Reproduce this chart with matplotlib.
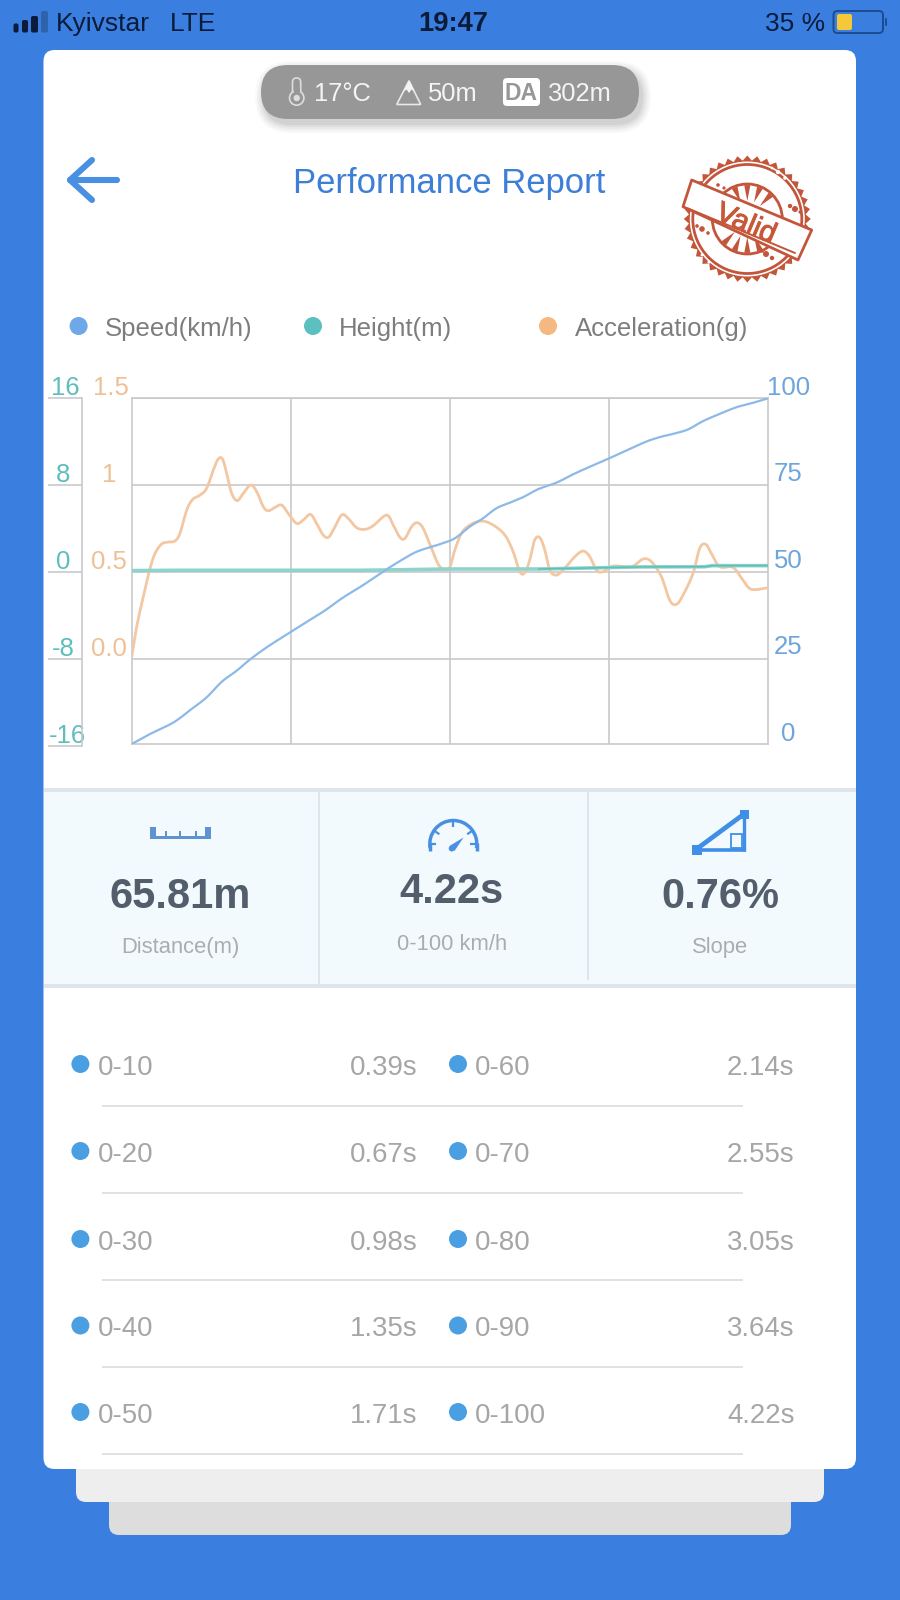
import numpy as np
import matplotlib
matplotlib.use("Agg")
import matplotlib.pyplot as plt
import matplotlib.patheffects as pe
from matplotlib.patches import FancyBboxPatch, Circle, Polygon, Arc, Rectangle
from matplotlib.transforms import ScaledTranslation

plt.rcParams['font.family'] = ['Liberation Sans', 'DejaVu Sans']

# ---------- data ----------
time_acc = [0.00,.033,.077,.122,.155,.199,.243,.287,.320,.365,.404,.453,.497,.541,.574,.603,.630,.663,.700,.740,
            .789,.829,.873,.906,.950,.994,1.038,1.094,1.138,1.186,1.226,1.270,1.304,1.337,1.392,1.436,1.491,1.547,
            1.602,1.690,1.734,1.779,1.812,1.856,1.893,1.933,1.988,2.044,2.103,2.143,2.187,2.243,2.320,2.397,2.475,
            2.530,2.574,2.607,2.640,2.673,2.707,2.740,2.773,2.817,2.872,2.939,2.994,3.038,3.082,3.126,3.193,3.314,
            3.391,3.447,3.513,3.568,3.612,3.657,3.723,3.767,3.807,3.844,3.900,3.988,4.054,4.110,4.220]
acceleration = [.013,.186,.359,.522,.608,.662,.673,.679,.723,.857,.918,.943,.982,1.087,1.151,1.149,1.068,.953,.911,.953,
                1.001,.963,.876,.853,.872,.886,.838,.780,.800,.832,.780,.713,.700,.742,.828,.809,.756,.746,
                .767,.828,.771,.700,.694,.761,.784,.752,.637,.531,.518,.627,.723,.771,.794,.771,.713,
                .617,.502,.497,.570,.685,.698,.627,.512,.483,.522,.589,.621,.589,.512,.502,.535,.531,
                .575,.560,.474,.339,.314,.368,.493,.637,.660,.608,.531,.527,.454,.401,.410]
time_speed = [0,.122,.276,.387,.497,.597,.696,.795,.917,1.049,1.182,1.281,1.403,1.536,1.668,1.801,1.900,2.044,2.143,
              2.243,2.331,2.419,2.508,2.596,2.695,2.817,2.927,3.038,3.155,3.281,3.414,3.513,3.590,3.690,3.789,3.900,
              4.010,4.121,4.220]
speed = [0,2.9,6.2,9.8,13.5,18.0,21.2,24.8,28.6,32.2,35.9,38.6,42.4,46.0,49.9,53.5,55.8,57.8,59.5,
         62.9,65.3,68.2,69.8,71.4,73.7,75.6,78.0,80.2,82.4,84.9,87.5,88.9,89.7,91.0,93.4,95.5,
         97.4,98.7,100.0]
time_height = [0,.28,1.5,1.68,2.1,2.7,3.37,3.8,3.85,4.22]
height_m = [.14,.17,.17,.2,.29,.29,.48,.5,.6,.6]

height_ticks = [-16,-8,0,8,16]
acc_ticks = [0,.5,1,1.5]
acc_tick_labels = ['0.0','0.5','1','1.5']
speed_ticks = [0,25,50,75,100]

legend_labels = ['Speed(km/h)','Height(m)','Acceleration(g)']
stat_values = ['65.81m','4.22s','0.76%']
stat_labels = ['Distance(m)','0-100 km/h','Slope']
row_left_labels = ['0-10','0-20','0-30','0-40','0-50']
row_left_times = ['0.39s','0.67s','0.98s','1.35s','1.71s']
row_right_labels = ['0-60','0-70','0-80','0-90','0-100']
row_right_times = ['2.14s','2.55s','3.05s','3.64s','4.22s']

# ---------- colours ----------
BG='#3a7fe0'; TEAL='#5fbdbd'; ORANGE='#efc096'; BLUE='#6ea5dc'; GRID='#c9c9c9'
W,H=900,1600
fig=plt.figure(figsize=(9,16),dpi=100,facecolor=BG)

bg=fig.add_axes([0,0,1,1],zorder=0)
bg.set_xlim(0,W); bg.set_ylim(H,0); bg.axis('off')

def rrect(x0,y0,x1,y1,r,color,z=1,**k):
    p=FancyBboxPatch((x0,y0),x1-x0,y1-y0,boxstyle=f'round,pad=0,rounding_size={r}',fc=color,ec='none',zorder=z,**k)
    bg.add_patch(p); return p
def txt(x,y,s,size,color,ha='left',weight='normal',rot=0,z=6):
    return bg.text(x,y,s,fontsize=size,color=color,ha=ha,va='center',fontweight=weight,rotation=rot,
                   rotation_mode='anchor',zorder=z)
def line(xs,ys,color,lw,z=5,cap='round'):
    bg.plot(xs,ys,color=color,lw=lw,zorder=z,solid_capstyle=cap,solid_joinstyle='round')
def dot(x,y,r,color,z=5):
    bg.add_patch(Circle((x,y),r,fc=color,ec='none',zorder=z))
def smooth(xs,ys,n=8):
    """Catmull-Rom drawing of a series, like a chart library's smooth line."""
    P=np.c_[xs,ys]; P=np.vstack([P[0],P,P[-1]]); out=[]
    for i in range(1,len(P)-2):
        s=np.linspace(0,1,n,endpoint=False)[:,None]
        out.append(.5*(2*P[i]+(P[i+1]-P[i-1])*s+(2*P[i-1]-5*P[i]+4*P[i+1]-P[i+2])*s**2
                       +(3*P[i]-P[i-1]-3*P[i+1]+P[i+2])*s**3))
    out.append(P[-1][None]); return np.vstack(out).T

# cards
rrect(109,1480,791,1535,10,'#dddddd',1)
rrect(76,1440,824,1502,10,'#eeeeee',2)
rrect(43.5,50,856,1469,11,'#ffffff',3)

# status bar
DARK='#0b1b3a'
for x0,x1,top,c in zip([13.5,22,31,41],[18.5,28,38,48],[23.5,20,16,11],[DARK,DARK,DARK,'#2f62ad']):
    rrect(x0,top,x1,32.5,1.8,c,5)
txt(55.5,24,'Kyivstar',19,DARK); txt(170,24,'LTE',19,DARK)
txt(453,24,'19:47',19.7,DARK,'center','bold')
txt(765,24,'35 %',19,DARK)
rrect(833.5,11,883,33,4,'none',5).set(ec='#1c4c92',lw=1.4)
rrect(837,14,852,30,2,'#f5c83a',6)
rrect(885,18,887,26,1,'#1c4c92',5)

# pill
for g,a in zip([9,7,5,3,1],[.025,.03,.035,.04,.05]):
    rrect(261+3-g,65+5-g,639+3+g,119+5+g,27+g,'#000000',4,alpha=a)
rrect(261,65,639,119,27,'#979797',5)
PT='#f4f4f4'
txt(314,94,'17°C',18.4,PT); txt(428,94,'50m',18.4,PT); txt(547,94,'302m',18.4,PT)
rrect(503,78,540,106,4,'white',6)
txt(521.5,93.5,'DA',16.5,'#979797','center','bold',z=7)
rrect(292.5,78,300.7,96,4,'none',6).set(ec='#dddddd',lw=1.2)
bg.add_patch(Circle((296.7,98),7.2,fc='#979797',ec='#dddddd',lw=1.2,zorder=6))
bg.add_patch(Rectangle((293.5,88),6.4,6,fc='#979797',ec='none',zorder=6.5))
dot(296.7,98,3.2,'#dddddd',7)
bg.add_patch(Polygon([[396.7,104.5],[409,80.7],[420.7,104.5]],closed=True,fc='#979797',ec='#e8e8e8',lw=1.2,zorder=6))
bg.add_patch(Polygon([[403,92],[409,81],[415,92],[411.5,89.5],[409,93],[406.5,89.5]],closed=True,fc='#f4f4f4',ec='none',zorder=7))

# header
ARROW='#4a90e2'
line([70,117],[180,180],ARROW,4.4); line([92,70,92],[160,180,200],ARROW,4.4)
txt(449.5,183,'Performance Report',24.9,'#3d7fd6','center')

# stamp
ST='#c3563a'; cx,cy=747.3,219
ang=np.linspace(0,2*np.pi,81)[:-1]
rad=np.where(np.arange(80)%2==0,63.5,58.5)
bg.add_patch(Polygon(np.c_[cx+rad*np.cos(ang),cy+rad*np.sin(ang)],closed=True,fc=ST,ec='none',zorder=5))
bg.add_patch(Circle((cx,cy),57.5,fc='white',ec='none',zorder=5.05))
bg.add_patch(Circle((cx,cy),54.5,fc='none',ec=ST,lw=2.0,zorder=5.1))
bg.add_patch(Circle((cx,cy),35,fc='none',ec=ST,lw=2.0,zorder=5.1))
for deg in [-112,-90,-68,-46,68,90,112,134]:
    a=np.deg2rad(deg)
    p=[[cx+18*np.cos(a),cy+18*np.sin(a)],
       [cx+34*np.cos(a-.09),cy+34*np.sin(a-.09)],
       [cx+34*np.cos(a+.09),cy+34*np.sin(a+.09)]]
    bg.add_patch(Polygon(p,closed=True,fc=ST,ec='none',zorder=5.1))
for x,y,r in [(795,209,3),(790,206,2.2),(800,212,1.6),(702,229,2.8),(697,226,1.8),(708,233,1.8),
              (766,254,3),(772,258,2.2),(762,251,1.8),(718,185,1.8),(724,188,1.6)]:
    dot(x,y,r,ST,5.2)
for x,y,r in [(778,172,2.2),(785,178,1.8),(772,168,1.4),(709,262,1.6),(702,255,1.4)]:
    dot(x,y,r,'white',5.3)
bg.add_patch(Polygon([[691.7,180],[811.7,230],[798,260],[683,206.7]],closed=True,fc='white',ec=ST,lw=2,joinstyle='round',zorder=5.5))
line([688,795],[208.5,253],ST,1.4,5.6)
vt=txt(746,224,'Valid',21,'#c9583a','center','normal',rot=-23)
vt.set_path_effects([pe.withStroke(linewidth=0.7,foreground='#c9583a')])

# legend
for x,tx,c,l in zip([78.6,313,548],[105,339,575],['#6fa8e8','#5cc0c0','#f4b880'],legend_labels):
    dot(x,326,9,c); txt(tx,329,l,18.5,'#7d7d7d')

# chart axes, positions from pixels
L,R,T,B=131.7,768,398.3,744
def pos(bot=B): return [L/W,1-bot/H,(R-L)/W,(bot-T)/H]
xmax=4.22
ax=fig.add_axes(pos(),zorder=2,facecolor='none')
ax.set_xlim(0,xmax); ax.set_ylim(-0.489,1.5)
ax.set_xticks([xmax*i/4 for i in range(1,4)]); ax.tick_params(axis='x',length=0,labelbottom=False)
ax.grid(True,color=GRID,lw=1.2); ax.set_axisbelow(True)
for s in ax.spines.values(): s.set_color(GRID); s.set_linewidth(1.2)

def style_labels(a,labels,dx,dy,color):
    a.set_yticklabels(labels)
    for lab,d in zip(a.get_yticklabels(),dx):
        lab.set_ha('center'); lab.set_va('center'); lab.set_color(color); lab.set_fontsize(18.5)
        lab.set_transform(lab.get_transform()+ScaledTranslation(d/100,dy/100,fig.dpi_scale_trans))

ax.set_yticks(acc_ticks)
ax.tick_params(axis='y',length=0,pad=0)
style_labels(ax,acc_tick_labels,[-22.7,-22.7,-22.7,-20.7],10,ORANGE)
ax.plot(*smooth(time_acc,acceleration),color='#f3c7a2',lw=2.0,solid_joinstyle='round',zorder=3)

axh=fig.add_axes(pos(746),zorder=3,facecolor='none')
axh.set_xlim(0,xmax); axh.set_ylim(-16,16)
for k in ['top','right','bottom']: axh.spines[k].set_visible(False)
axh.spines['left'].set_position(('outward',36)); axh.spines['left'].set_color(GRID); axh.spines['left'].set_linewidth(1.2)
axh.set_xticks([]); axh.set_yticks(height_ticks)
axh.tick_params(axis='y',length=24.5,width=1.2,color=GRID,pad=0)
style_labels(axh,[str(v) for v in height_ticks],[19.3,15.3,15.8,15.8,17.3],10,TEAL)
axh.plot(time_height,height_m,color='#8ed4cd',lw=2.6,zorder=3)
axh.plot(time_height[5:],height_m[5:],color='#5fbfb8',lw=1.1,zorder=3.1)

axs=fig.add_axes(pos(),zorder=4,facecolor='none')
axs.set_xlim(0,xmax); axs.set_ylim(0,100)
for s in axs.spines.values(): s.set_visible(False)
axs.set_xticks([]); axs.yaxis.tick_right(); axs.set_yticks(speed_ticks)
axs.tick_params(axis='y',length=0,pad=0)
style_labels(axs,[str(v) for v in speed_ticks],[20,20,20,20,21],10.5,BLUE)
axs.plot(*smooth(time_speed,speed),color='#8db9e8',lw=1.6,solid_joinstyle='round',zorder=3)

# stats panel
bg.add_patch(Rectangle((43.5,790),812.5,196,fc='#f3fafd',ec='none',zorder=4))
for y in [790,986]: bg.add_patch(Rectangle((43.5,y-2),812.5,4,fc='#dfe5ec',ec='none',zorder=4.5))
bg.add_patch(Rectangle((318,790),2,196,fc='#dfe5ec',ec='none',zorder=4.5))
bg.add_patch(Rectangle((587,790),1.5,190,fc='#dfe5ec',ec='none',zorder=4.5))
for x,y,s in zip([180,452,720],[897,892,897],stat_values):
    txt(x,y,s,30,'#525e6b','center','bold')
for x,y,s in zip([180,452,720],[947,944,947],stat_labels):
    txt(x,y,s,15.8,'#a8adb2','center')
# ruler icon
RC='#5e93cf'
bg.add_patch(Rectangle((150,835.7),60.7,3.6,fc=RC,ec='none',zorder=5))
for x,w,top in [(150,5.7,826.7),(205,5.7,826.7),(165,2,831),(179.3,2,831),(195,2,831)]:
    bg.add_patch(Rectangle((x,top),w,836-top,fc=RC,ec='none',zorder=5))
# gauge icon
GC='#4a90e2'; gx,gy=453.3,844
bg.add_patch(Arc((gx,gy),47,47,theta1=170,theta2=370,ec=GC,lw=2.5,zorder=5))
line([430,430],[843,851],GC,2.5,cap='butt'); line([476.6,476.6],[843,851],GC,2.5,cap='butt')
for a in np.deg2rad([180,215,270,325,360]):
    line([gx+17*np.cos(a),gx+23*np.cos(a)],[gy+17*np.sin(a),gy+23*np.sin(a)],GC,1.6,cap='butt')
bg.add_patch(Polygon([[449.5,846],[463.5,837.5],[454.5,851]],closed=True,fc=GC,ec='none',zorder=5))
dot(451.7,848.5,3,GC)
# slope icon
SC='#3f8fe6'
line([698,744],[848,814],SC,3.4,cap='butt')
line([698,745.7],[849.5,849.5],SC,2.6,cap='butt'); line([744,744],[814,851],SC,2.4,cap='butt')
bg.add_patch(Rectangle((692.3,845),9.4,10,fc=SC,ec='none',zorder=5))
bg.add_patch(Rectangle((740,810),9,9,fc=SC,ec='none',zorder=5))
bg.add_patch(Rectangle((730.7,834),11.6,14.3,fc='none',ec=SC,lw=1.3,zorder=5))

# rows
ROWC='#a6a6a6'; DOT='#4a9fe3'
row_y=[1065,1152,1240,1326.5,1413]; sep_y=[1106,1193,1280,1367,1454]
for i,y in enumerate(row_y):
    dot(80.4,y-1,9,DOT); txt(97.8,y+3,row_left_labels[i],19.9,ROWC); txt(417.5,y+3,row_left_times[i],19.9,ROWC,'right')
    dot(458,y-1,9,DOT); txt(475,y+3,row_right_labels[i],19.9,ROWC); txt(794.5,y+3,row_right_times[i],19.9,ROWC,'right')
    line([102,743],[sep_y[i]]*2,'#dcdcdc',1.2,cap='butt')

fig.savefig('out.png',dpi=100,facecolor=BG)
